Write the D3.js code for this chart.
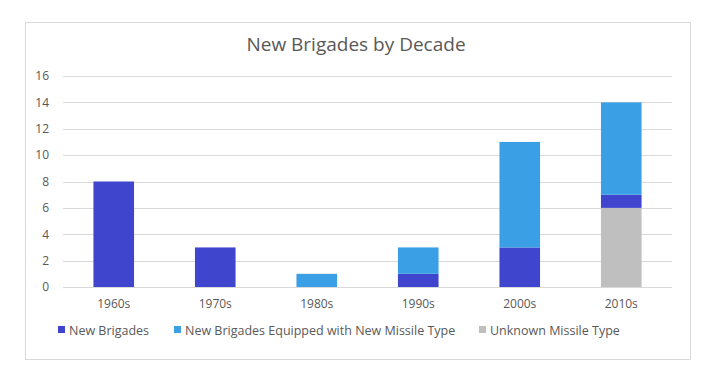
<!DOCTYPE html>
<html>
<head>
<meta charset="utf-8">
<script src="https://cdn.jsdelivr.net/npm/d3@7"></script>
<style>
  body { margin: 0; background: #fff; }
  text { font-family: "Open Sans", "Liberation Sans", sans-serif; fill: #595959; }
</style>
</head>
<body>
<div id="chart"></div>
<script>
var decades = ["1960s", "1970s", "1980s", "1990s", "2000s", "2010s"];
var unknownType = [0, 0, 0, 0, 0, 6];
var newBrigades = [8, 3, 0, 1, 3, 1];
var equipped = [0, 0, 1, 2, 8, 7];
var yTicks = [0, 2, 4, 6, 8, 10, 12, 14, 16];
var seriesNames = ["New Brigades", "New Brigades Equipped with New Missile Type", "Unknown Missile Type"];

var colors = {
  "Unknown Missile Type": "#bfbfbf",
  "New Brigades": "#3f45cc",
  "New Brigades Equipped with New Missile Type": "#3a9fe4"
};

var W = 708, H = 378;
var margin = { top: 76, left: 63, right: 36, bottom: 91 };
var width = W - margin.left - margin.right,
    height = H - margin.top - margin.bottom;

var svg = d3.select("#chart").append("svg")
  .attr("width", W)
  .attr("height", H);

// outer frame
svg.append("rect")
  .attr("x", 25.5).attr("y", 22.5)
  .attr("width", 665).attr("height", 337)
  .attr("fill", "#fff")
  .attr("stroke", "#d9d9d9");

svg.append("text")
  .attr("x", 356).attr("y", 51)
  .attr("text-anchor", "middle")
  .style("font-size", "19px")
  .text("New Brigades by Decade");

var g = svg.append("g")
  .attr("transform", "translate(" + margin.left + "," + margin.top + ")");

var table = decades.map(function(d, i) {
  return {
    decade: d,
    "Unknown Missile Type": unknownType[i],
    "New Brigades": newBrigades[i],
    "New Brigades Equipped with New Missile Type": equipped[i]
  };
});

var stackKeys = ["Unknown Missile Type", "New Brigades", "New Brigades Equipped with New Missile Type"];
var stacked = d3.stack().keys(stackKeys)(table);

var x = d3.scaleBand()
  .domain(decades)
  .range([0, width])
  .paddingInner(0.6)
  .paddingOuter(0.3);

var y = d3.scaleLinear()
  .domain([0, 16])
  .range([height, 0]);

// gridlines
g.append("g")
  .selectAll("line")
  .data(yTicks)
  .enter().append("line")
  .attr("x1", 0).attr("x2", width)
  .attr("y1", function(d) { return Math.round(y(d)) + 0.5; })
  .attr("y2", function(d) { return Math.round(y(d)) + 0.5; })
  .attr("stroke", "#d9d9d9");

var yAxis = d3.axisLeft(y).tickValues(yTicks).tickSize(0).tickPadding(14);
g.append("g")
  .call(yAxis)
  .call(function(a) { a.select(".domain").remove(); })
  .selectAll("text")
  .style("font-size", "12px")
  .attr("fill", "#595959");

var xAxis = d3.axisBottom(x).tickSize(0).tickPadding(12);
g.append("g")
  .attr("transform", "translate(0," + height + ")")
  .call(xAxis)
  .call(function(a) { a.select(".domain").remove(); })
  .selectAll("text")
  .style("font-size", "12px")
  .attr("fill", "#595959");

g.selectAll(".layer")
  .data(stacked)
  .enter().append("g")
  .attr("class", "layer")
  .attr("fill", function(d) { return colors[d.key]; })
  .selectAll("rect")
  .data(function(d) { return d; })
  .enter().append("rect")
  .attr("x", function(d) { return x(d.data.decade); })
  .attr("width", x.bandwidth())
  .attr("y", function(d) { return y(d[1]); })
  .attr("height", function(d) { return y(d[0]) - y(d[1]); });

// legend
var legendX = [58, 174, 479];
var legend = svg.append("g").attr("class", "legend");
seriesNames.forEach(function(name, i) {
  legend.append("rect")
    .attr("x", legendX[i]).attr("y", 326)
    .attr("width", 7).attr("height", 7)
    .attr("fill", colors[name]);
  legend.append("text")
    .attr("x", legendX[i] + 11).attr("y", 334.5)
    .style("font-size", "12.5px")
    .text(name);
});
</script>
</body>
</html>
